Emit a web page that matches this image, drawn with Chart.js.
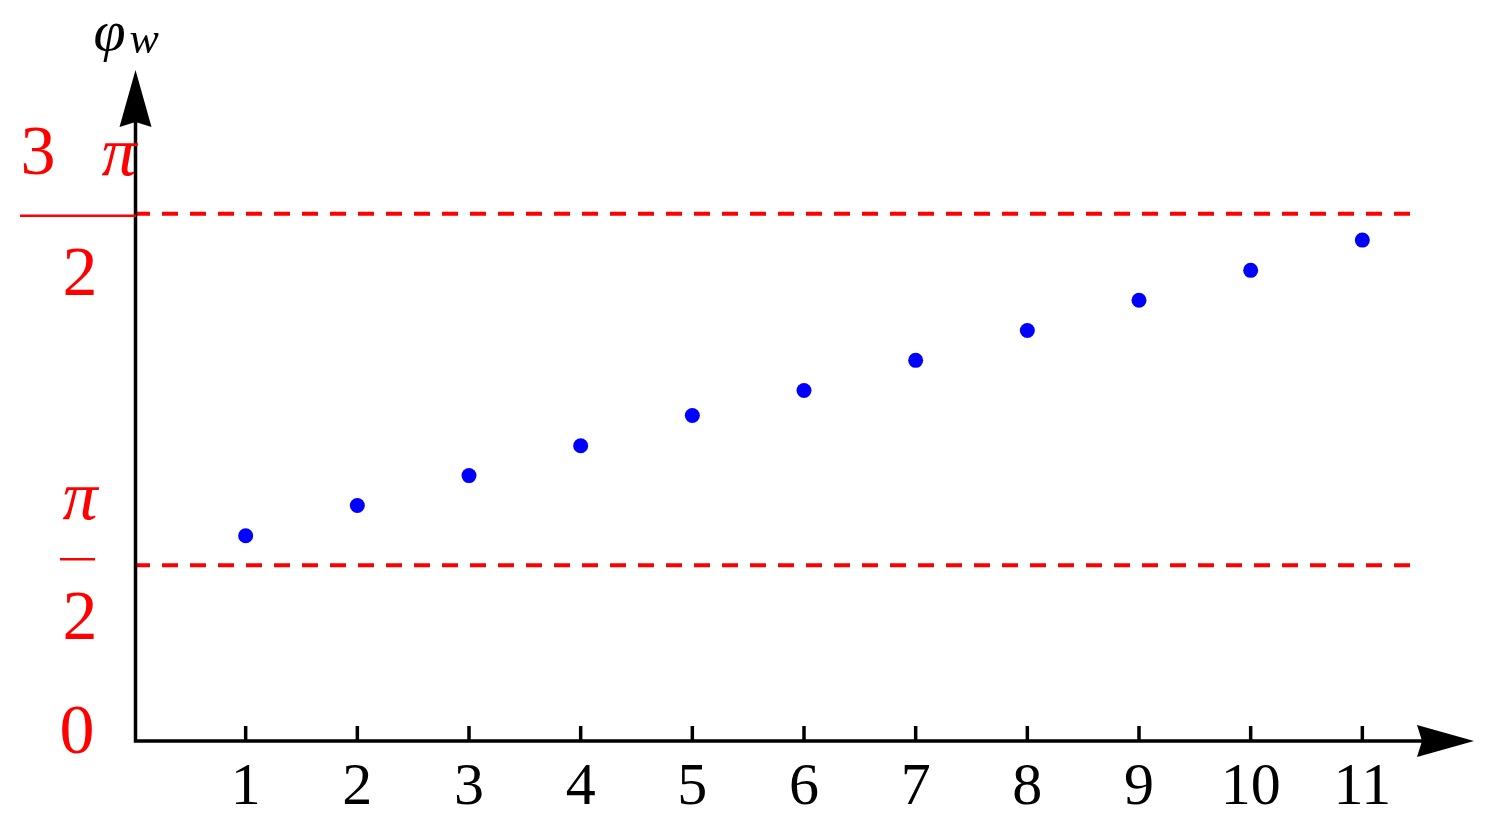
<!DOCTYPE html>
<html>
<head>
<meta charset="utf-8">
<title>phi_w per node</title>
<script src="https://cdn.jsdelivr.net/npm/chart.js@4.4.0/dist/chart.umd.min.js"></script>
<style>
    html, body { margin: 0; padding: 0; background: #fff; }
    #wrap { position: relative; width: 1491px; height: 835px; }
</style>
</head>
<body>
<div id="wrap"><canvas id="phiChart"></canvas></div>
<script>
// node index and phase (in units of pi)
const nodeIndex = [1, 2, 3, 4, 5, 6, 7, 8, 9, 10, 11];
const phiOverPi = [0.584, 0.670, 0.755, 0.840, 0.926, 0.997, 1.083, 1.168, 1.254, 1.339, 1.425];

// dashed bounds pi/2 and 3pi/2, and where they stop on the x axis
const boundLevels = [0.5, 1.5];
const boundEnd = 11.5;

const xTickLabels = ['1', '2', '3', '4', '5', '6', '7', '8', '9', '10', '11'];
const yTickValues = [0, 0.5, 1.5];

const RED = '#ff0000';
const BLUE = '#0000ff';
const SERIF = '"Liberation Serif", "DejaVu Serif", serif';

function drawFraction(ctx, yScale) {
    const y0 = yScale.getPixelForValue(yTickValues[0]);
    const yHalf = yScale.getPixelForValue(yTickValues[1]);
    const yThree = yScale.getPixelForValue(yTickValues[2]);

    ctx.save();
    ctx.fillStyle = RED;
    ctx.strokeStyle = RED;
    ctx.textAlign = 'center';
    ctx.textBaseline = 'alphabetic';

    // 0
    ctx.font = '70px ' + SERIF;
    ctx.fillText('0', 77, y0 + 12);

    // pi / 2
    ctx.font = 'italic 70px ' + SERIF;
    ctx.fillText('π', 80, yHalf - 46);
    ctx.lineWidth = 2.5;
    ctx.beginPath();
    ctx.moveTo(60, yHalf - 6);
    ctx.lineTo(95, yHalf - 6);
    ctx.stroke();
    ctx.font = '70px ' + SERIF;
    ctx.fillText('2', 80, yHalf + 74);

    // 3 pi / 2
    ctx.fillText('3', 38, yThree - 40);
    ctx.font = 'italic 70px ' + SERIF;
    ctx.fillText('π', 119, yThree - 39);
    ctx.beginPath();
    ctx.moveTo(20, yThree + 2);
    ctx.lineTo(136, yThree + 2);
    ctx.stroke();
    ctx.font = '70px ' + SERIF;
    ctx.fillText('2', 80, yThree + 81);
    ctx.restore();
}

const axesPlugin = {
    id: 'arrowAxes',
    afterDatasetsDraw(chart) {
        const ctx = chart.ctx;
        const area = chart.chartArea;
        const xScale = chart.scales.x;
        const yScale = chart.scales.y;
        const left = xScale.getPixelForValue(0) + 1.5;
        const bottom = yScale.getPixelForValue(0);

        ctx.save();
        ctx.strokeStyle = '#000';
        ctx.fillStyle = '#000';
        ctx.lineWidth = 3.5;
        ctx.lineCap = 'butt';

        // axis lines
        ctx.beginPath();
        ctx.moveTo(left - 1.75, bottom);
        ctx.lineTo(area.right - 50, bottom);
        ctx.moveTo(left, bottom);
        ctx.lineTo(left, area.top + 50);
        ctx.stroke();

        // arrow heads
        ctx.beginPath();
        ctx.moveTo(area.right, bottom);
        ctx.lineTo(area.right - 57, bottom - 16);
        ctx.lineTo(area.right - 52, bottom);
        ctx.lineTo(area.right - 57, bottom + 16);
        ctx.closePath();
        ctx.fill();

        ctx.beginPath();
        ctx.moveTo(left, area.top);
        ctx.lineTo(left - 16, area.top + 57);
        ctx.lineTo(left, area.top + 52);
        ctx.lineTo(left + 16, area.top + 57);
        ctx.closePath();
        ctx.fill();

        // small inward ticks
        nodeIndex.forEach(n => {
            const px = xScale.getPixelForValue(n);
            ctx.beginPath();
            ctx.moveTo(px, bottom);
            ctx.lineTo(px, bottom - 15);
            ctx.stroke();
        });

        // axis title phi_w
        ctx.textBaseline = 'alphabetic';
        ctx.textAlign = 'left';
        ctx.font = 'italic 58px ' + SERIF;
        ctx.fillText('φ', left - 42, area.top - 20);
        ctx.font = 'italic 44px ' + SERIF;
        ctx.fillText('w', left - 6, area.top - 17);
        ctx.restore();

        drawFraction(ctx, yScale);
    }
};

const ctx = document.getElementById('phiChart').getContext('2d');

const boundSets = boundLevels.map(level => ({
    type: 'line',
    data: [{ x: 0, y: level }, { x: boundEnd, y: level }],
    borderColor: RED,
    borderWidth: 4,
    borderDash: [16, 12],
    pointRadius: 0,
    fill: false,
    order: 2
}));

const phiChart = new Chart(ctx, {
    type: 'scatter',
    data: {
        datasets: [{
            label: 'phi_w',
            data: nodeIndex.map((n, i) => ({ x: n, y: phiOverPi[i] })),
            backgroundColor: BLUE,
            borderColor: BLUE,
            borderWidth: 0,
            pointRadius: 7.5,
            order: 1
        }].concat(boundSets)
    },
    options: {
        animation: false,
        responsive: true,
        maintainAspectRatio: false,
        devicePixelRatio: 1,
        layout: {
            padding: { left: 134, right: 6, top: 70, bottom: 0 }
        },
        plugins: {
            legend: { display: false },
            tooltip: { enabled: false }
        },
        scales: {
            x: {
                type: 'linear',
                min: 0,
                max: 12,
                border: { display: false },
                grid: { display: false, drawTicks: false },
                ticks: {
                    stepSize: 1,
                    autoSkip: false,
                    maxRotation: 0,
                    padding: 17,
                    color: '#000',
                    font: { family: SERIF, size: 60, lineHeight: 1 },
                    callback: value => xTickLabels[value - 1] !== undefined && Number.isInteger(value) ? xTickLabels[value - 1] : ''
                }
            },
            y: {
                type: 'linear',
                display: false,
                min: 0,
                max: 1.909
            }
        }
    },
    plugins: [axesPlugin]
});
</script>
</body>
</html>
